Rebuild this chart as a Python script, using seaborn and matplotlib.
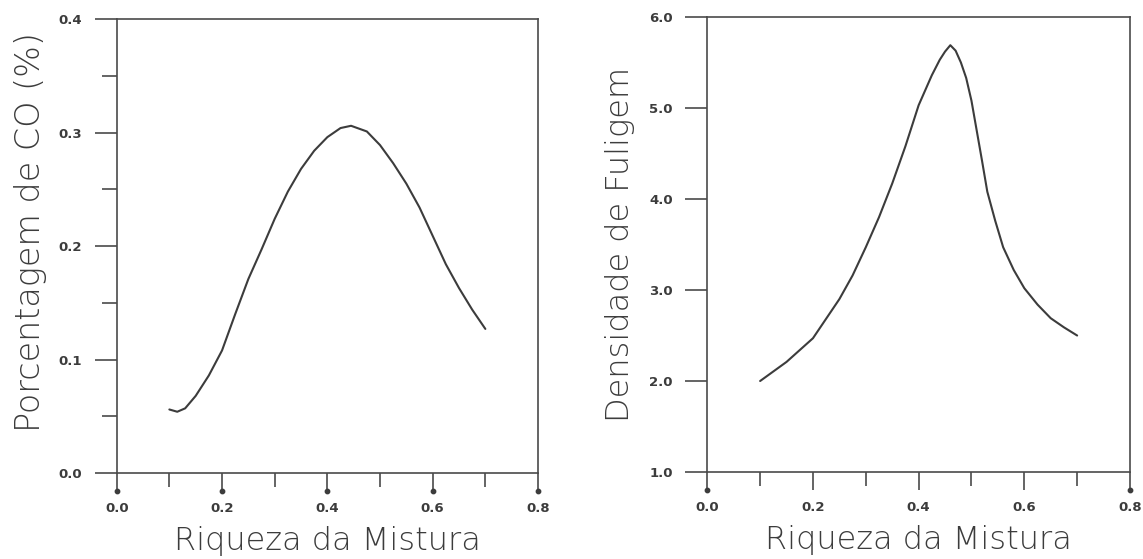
import numpy as np
import pandas as pd
import matplotlib
matplotlib.use("Agg")
import matplotlib.pyplot as plt
from matplotlib.ticker import MultipleLocator, FormatStrFormatter
import matplotlib.transforms as mtransforms
import seaborn as sns

# ---- data ----
co_x = [0.100, 0.115, 0.130, 0.150, 0.175, 0.200, 0.225, 0.250, 0.275, 0.300,
        0.325, 0.350, 0.375, 0.400, 0.425, 0.445, 0.475, 0.500, 0.525, 0.550,
        0.575, 0.600, 0.625, 0.650, 0.675, 0.700]
co_y = [0.056, 0.054, 0.057, 0.068, 0.086, 0.108, 0.140, 0.171, 0.197, 0.224,
        0.248, 0.268, 0.284, 0.296, 0.304, 0.306, 0.301, 0.289, 0.273, 0.255,
        0.234, 0.209, 0.184, 0.163, 0.144, 0.127]

soot_x = [0.100, 0.150, 0.200, 0.250, 0.275, 0.300, 0.325, 0.350, 0.375, 0.400,
          0.425, 0.440, 0.450, 0.460, 0.470, 0.480, 0.490, 0.500, 0.510, 0.520,
          0.530, 0.545, 0.560, 0.580, 0.600, 0.625, 0.650, 0.675, 0.700]
soot_y = [2.00, 2.21, 2.47, 2.90, 3.16, 3.47, 3.80, 4.17, 4.58, 5.03,
          5.36, 5.53, 5.62, 5.69, 5.63, 5.50, 5.33, 5.08, 4.75, 4.42,
          4.08, 3.76, 3.47, 3.22, 3.02, 2.84, 2.69, 2.59, 2.50]

xlabel = "Riqueza da Mistura"
ylabel_left = "Porcentagem de CO (%)"
ylabel_right = "Densidade de Fuligem"
x_ticks = [0.0, 0.2, 0.4, 0.6, 0.8]
left_yticks = [0.0, 0.1, 0.2, 0.3, 0.4]
right_yticks = [1.0, 2.0, 3.0, 4.0, 5.0, 6.0]

sns.set_style("ticks")
plt.rcParams["font.family"] = ["DejaVu Sans"]

INK = "#3c3c3c"
fig = plt.figure(figsize=(11.43, 5.59), dpi=100)
axL = fig.add_axes([0.1021, 0.1538, 0.3686, 0.812])
axR = fig.add_axes([0.6188, 0.1556, 0.3698, 0.814])

df_co = pd.DataFrame({"x": co_x, "y": co_y})
df_soot = pd.DataFrame({"x": soot_x, "y": soot_y})
sns.lineplot(data=df_co, x="x", y="y", ax=axL, color=INK, lw=1.5, sort=False)
sns.lineplot(data=df_soot, x="x", y="y", ax=axR, color=INK, lw=1.5, sort=False)


def style(ax, yticks, yminor, ylabel, ylabel_pos, ylabel_size, dot_ticks):
    ax.set_xlim(0.0, 0.8)
    ax.set_ylim(yticks[0], yticks[-1])
    ax.set_xticks(x_ticks)
    ax.xaxis.set_minor_locator(MultipleLocator(0.1))
    ax.set_yticks(yticks)
    if yminor:
        ax.yaxis.set_minor_locator(MultipleLocator(yminor))
    ax.xaxis.set_major_formatter(FormatStrFormatter("%.1f"))
    ax.yaxis.set_major_formatter(FormatStrFormatter("%.1f"))
    for s in ax.spines.values():
        s.set_visible(True)
        s.set_color("#4a4a4a")
        s.set_linewidth(1.2)
    ax.tick_params(axis="x", which="major", direction="out", length=13, width=1.2,
                   color="#4a4a4a", pad=8, labelsize=9.5, labelcolor=INK)
    ax.tick_params(axis="x", which="minor", direction="out", length=10, width=1.2,
                   color="#4a4a4a")
    ax.tick_params(axis="y", which="major", direction="out", length=16, width=1.2,
                   color="#4a4a4a", pad=9, labelsize=9.5, labelcolor=INK)
    ax.tick_params(axis="y", which="minor", direction="out", length=11, width=1.2,
                   color="#4a4a4a")
    for lab in ax.get_xticklabels() + ax.get_yticklabels():
        lab.set_fontweight("bold")
    ax.set_xlabel(xlabel, fontsize=23, color=INK, labelpad=8, fontweight="light")
    ax.set_ylabel(ylabel, fontsize=ylabel_size, color=INK, fontweight="light")
    ax.yaxis.set_label_coords(*ylabel_pos)
    # small dots at the ends of the major x ticks
    trans = mtransforms.offset_copy(ax.get_xaxis_transform(), fig=fig, y=-13, units="points")
    ax.scatter(dot_ticks, [0] * len(dot_ticks), s=10, color=INK, transform=trans,
               clip_on=False, zorder=5)
    ax.grid(False)


style(axL, left_yticks, 0.05, ylabel_left, (-0.165, 0.53), 24, x_ticks)
style(axR, right_yticks, None, ylabel_right, (-0.17, 0.5), 23, [x_ticks[0], x_ticks[-1]])

fig.savefig("out.png", dpi=100, facecolor="white")
